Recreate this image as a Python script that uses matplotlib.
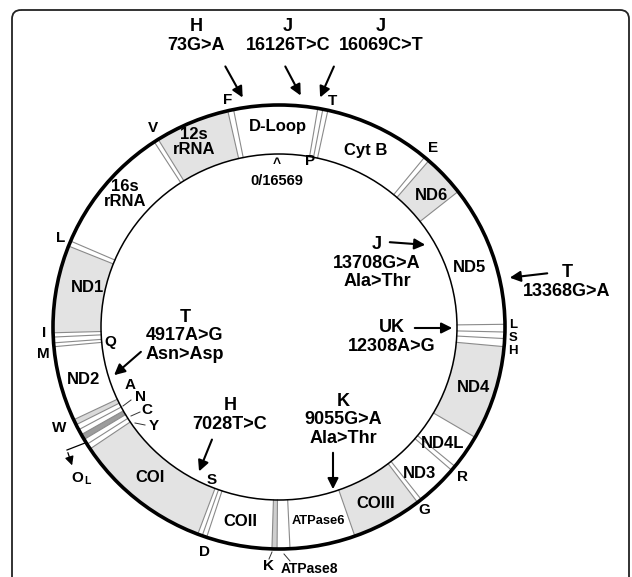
import numpy as np
import matplotlib
matplotlib.use('Agg')
import matplotlib.pyplot as plt
from matplotlib.patches import Polygon, FancyBboxPatch, Ellipse

plt.rcParams['font.family'] = ['Liberation Sans', 'DejaVu Sans']

GENOME = 16569

# region names and start positions (bp); each region ends where the next begins
seg_names = ['D-Loop', 'F', '12s rRNA', 'V', '16s rRNA', 'L1', 'ND1', 'I', 'Q', 'M', 'ND2',
             'W', 'A', 'N', 'OL', 'C', 'Y', 'COI', 'S1', 'D', 'COII', 'K', 'ATPase8',
             'ATPase6', 'COIII', 'G', 'ND3', 'R', 'ND4L', 'ND4', 'H', 'S2', 'L2', 'ND5',
             'ND6', 'E', 'Cyt B', 'T', 'P']
seg_start = [16114, 534, 603, 1487, 1542, 3094, 3158, 4211, 4262, 4331, 4377,
             5279, 5345, 5411, 5477, 5543, 5609, 5675, 7315, 7370, 7425, 8202, 8262,
             8413, 9187, 10025, 10080, 10577, 10637, 11055, 12193, 12289, 12367, 12459,
             14157, 14659, 14723, 15994, 16054]

# mutations: haplogroup, change, amino-acid change
mut_group = ['H', 'J', 'J', 'J', 'T', 'UK', 'T', 'H', 'K']
mut_change = ['73G>A', '16126T>C', '16069C>T', '13708G>A', '13368G>A', '12308A>G',
              '4917A>G', '7028T>C', '9055G>A']
mut_aa = ['', '', '', 'Ala>Thr', '', '', 'Asn>Asp', '', 'Ala>Thr']

# ---- layout (pixel space) ----
CX, CY = 279, 327
RX_OUT, RY_OUT = 226, 222
RX_IN, RY_IN = 178, 173

shade = {'12s rRNA': '#e3e3e3', 'ND1': '#e3e3e3', 'COI': '#e3e3e3', 'COIII': '#e3e3e3',
         'ND4': '#e3e3e3', 'ND6': '#e3e3e3', 'W': '#dadada', 'OL': '#9c9c9c', 'K': '#cfcfcf'}


def pt(p, rx, ry):
    th = 2 * np.pi * np.asarray(p, dtype=float) / GENOME
    return CX - rx * np.sin(th), CY - ry * np.cos(th)


fig = plt.figure(figsize=(6.32, 5.77), dpi=100)
ax = fig.add_axes([0, 0, 1, 1])
ax.set_xlim(0, 632)
ax.set_ylim(577, 0)
ax.axis('off')

ax.add_patch(FancyBboxPatch((12, 10), 617, 620, boxstyle='round,pad=0,rounding_size=9',
                            facecolor='none', edgecolor='#222222', lw=1.3))

# ring segments
n = len(seg_start)
for i in range(n):
    s = seg_start[i]
    e = seg_start[(i + 1) % n]
    if e < s:
        e += GENOME
    ps = np.linspace(s, e, 60)
    xo, yo = pt(ps, RX_OUT, RY_OUT)
    xi, yi = pt(ps[::-1], RX_IN, RY_IN)
    poly = np.column_stack([np.concatenate([xo, xi]), np.concatenate([yo, yi])])
    ax.add_patch(Polygon(poly, closed=True, facecolor=shade.get(seg_names[i], 'white'),
                         edgecolor='none', zorder=1))
    x0, y0 = pt(s, RX_IN, RY_IN)
    x1, y1 = pt(s, RX_OUT, RY_OUT)
    ax.plot([x0, x1], [y0, y1], color='#8a8a8a', lw=0.8, zorder=2)

ax.add_patch(Ellipse((CX, CY), 2 * RX_OUT, 2 * RY_OUT, facecolor='none',
                     edgecolor='black', lw=2.6, zorder=3))
ax.add_patch(Ellipse((CX, CY), 2 * RX_IN, 2 * RY_IN, facecolor='none',
                     edgecolor='black', lw=1.1, zorder=3))

bold = dict(fontweight='bold', ha='center', va='center', color='black')

# gene labels
gene_lbl = {'D-Loop': (278, 127), '12s\nrRNA': (194, 142), '16s\nrRNA': (125, 194),
            'Cyt B': (366, 151), 'ND6': (432, 195), 'ND5': (470, 267), 'ND4': (473, 387),
            'ND4L': (443, 443), 'ND3': (420, 474), 'COIII': (376, 504), 'COII': (240, 521),
            'COI': (150, 477), 'ND2': (84, 380), 'ND1': (87, 288)}
for t, (x, y) in gene_lbl.items():
    ax.text(x, y, t, fontsize=12, linespacing=1.0, **bold)
ax.text(318, 521, 'ATPase6', fontsize=9.3, **bold)

# tRNA / site labels
trna_lbl = {'F': (228, 100), 'T': (332, 101), 'P': (310, 161), 'V': (153, 128),
            'E': (433, 148), 'L': (61, 238), 'I': (44, 333), 'M': (43, 354), 'Q': (110, 342),
            'A': (130, 385), 'N': (140, 397), 'C': (147, 410), 'Y': (154, 426),
            'W': (59, 428), 'S': (212, 480), 'D': (204, 552), 'K': (268, 566),
            'G': (424, 510), 'R': (462, 477)}
for t, (x, y) in trna_lbl.items():
    ax.text(x, y, t, fontsize=11, **bold)
ax.text(309, 569, 'ATPase8', fontsize=10, **bold)
for t, y in zip(['L', 'S', 'H'], [325, 338, 351]):
    ax.text(513, y, t, fontsize=9.5, **bold)
ax.text(277, 164, '^', fontsize=10, **bold)
ax.text(277, 181, '0/16569', fontsize=10.5, **bold)
ax.text(77, 478, 'O', fontsize=11, **bold)
ax.text(87, 481, 'L', fontsize=7.5, **bold)

# leader lines
for (xa, ya), (xb, yb) in [((123, 406), (131, 400)), ((131, 416), (140, 412)),
                           ((135, 423), (145, 425)), ((272, 552), (269, 559)),
                           ((284, 554), (290, 561))]:
    ax.plot([xa, xb], [ya, yb], color='#333333', lw=0.7, zorder=4)

# OL bent arrow
ax.plot([85, 67], [443, 450], color='black', lw=0.9, zorder=4)
ax.annotate('', xy=(73, 468), xytext=(67, 450),
            arrowprops=dict(arrowstyle='-|>', color='black', lw=0.9, mutation_scale=13))

# mutation annotations: (text position, arrow tail, arrow head)
mut_pos = [((196, 36), (224, 64), (244, 100)),
           ((288, 36), (284, 64), (302, 98)),
           ((381, 36), (335, 64), (319, 100)),
           ((377, 263), (387, 242), (428, 245)),
           ((567, 282), (550, 273), (507, 278)),
           ((392, 337), (412, 328), (455, 328)),
           ((185, 336), (143, 350), (112, 377)),
           ((230, 415), (213, 437), (198, 474)),
           ((343, 420), (333, 450), (333, 492))]
for g, c, aa, ((tx, ty), tail, head) in zip(mut_group, mut_change, mut_aa, mut_pos):
    lines = [g, c] + ([aa] if aa else [])
    ax.text(tx, ty, '\n'.join(lines), fontsize=13, linespacing=1.08, **bold)
    ax.annotate('', xy=head, xytext=tail,
                arrowprops=dict(arrowstyle='-|>', color='black', lw=1.5, mutation_scale=16))

fig.savefig('out.png', dpi=100)
